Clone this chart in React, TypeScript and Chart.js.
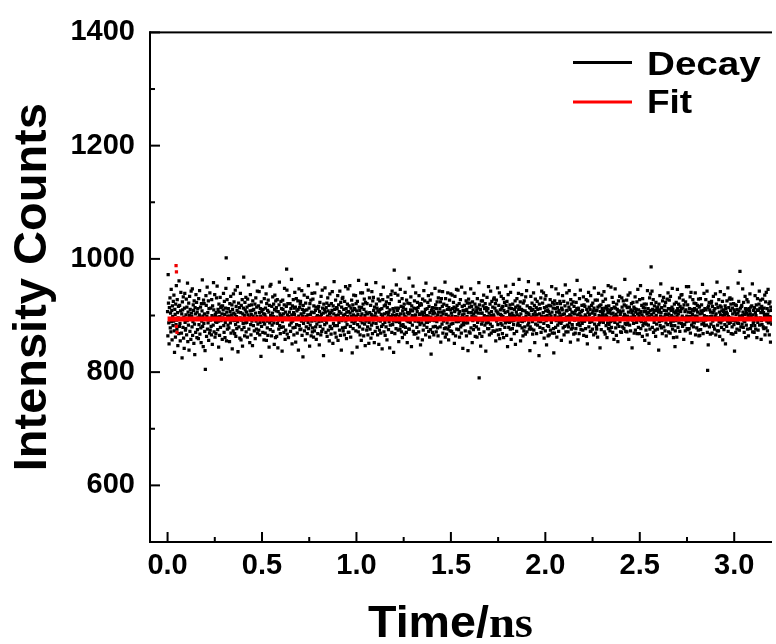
import { useEffect, useRef } from 'react';
import { Chart, registerables } from 'chart.js';

Chart.register(...registerables);

// Time channel spacing (ns) of the decay trace
const timeStep = 0.0016;

// Decay counts in 0.32 ns blocks
const decayY0 = [
  907, 864, 972, 922, 887, 850, 914, 893, 931, 878, 904, 871, 946, 889, 909, 857, 917, 898, 882, 925,
  890, 936, 873, 835, 911, 902, 862, 920, 884, 953, 892, 876, 928, 905, 847, 896, 916, 868, 961, 881,
  918, 886, 855, 908, 941, 894, 869, 903, 825, 924, 910, 879, 933, 860, 897, 842, 913, 939, 888, 874,
  877, 901, 929, 866, 915, 891, 957, 854, 906, 883, 922, 839, 900, 934, 872, 911, 893, 858, 943, 904,
  898, 880, 947, 865, 889, 919, 909, 851, 926, 885, 831, 914, 903, 870, 937, 894, 923, 861, 906, 875,
  912, 896, 859, 930, 884, 901, 944, 867, 897, 915, 878, 852, 921, 890, 908, 963, 881, 899, 845, 927,
  886, 921, 903, 872, 838, 805, 893, 935, 918, 863, 899, 950, 876, 905, 887, 926, 856, 912, 895, 869,
  940, 874, 892, 913, 881, 866, 928, 900, 849, 917, 894, 883, 958, 910, 871, 897, 937, 862, 902, 889,
  868, 905, 931, 888, 952, 897, 875, 911, 890, 844, 920, 906, 865, 898, 932, 879, 914, 891, 823, 916,
  903, 858, 917, 896, 910, 939, 882, 870, 925, 902, 861, 888, 913, 948, 1002, 855, 906, 928, 876, 899,
];
const decayY1 = [
  883, 912, 965, 878, 899, 854, 921, 907, 887, 934, 869, 901, 892, 919, 841, 911, 896, 873, 938, 904,
  924, 891, 868, 902, 945, 884, 863, 916, 898, 877, 909, 951, 889, 836, 906, 922, 880, 894, 914, 860,
  896, 939, 905, 857, 918, 892, 875, 928, 846, 903, 886, 913, 968, 879, 900, 864, 923, 910, 887, 932,
  871, 906, 888, 915, 862, 929, 901, 893, 954, 876, 918, 897, 852, 908, 937, 884, 866, 902, 919, 890,
  909, 847, 926, 899, 882, 911, 960, 873, 895, 920, 859, 904, 931, 890, 876, 915, 898, 943, 869, 885,
  893, 917, 874, 942, 905, 866, 888, 912, 899, 828, 924, 881, 907, 896, 950, 870, 911, 889, 903, 857,
  930, 885, 902, 869, 913, 897, 938, 856, 921, 890, 878, 909, 865, 927, 894, 906, 844, 918, 887, 952,
  875, 900, 955, 891, 864, 916, 883, 904, 933, 872, 898, 920, 887, 849, 911, 936, 895, 861, 926, 908,
  914, 863, 897, 928, 886, 843, 907, 892, 876, 919, 959, 882, 903, 868, 898, 925, 879, 912, 900, 837,
  889, 927, 911, 880, 903, 870, 919, 948, 896, 858, 906, 874, 893, 916, 982, 945, 867, 901, 921, 894,
];
const decayY2 = [
  861, 898, 935, 906, 883, 921, 894, 872, 912, 887, 964, 901, 850, 917, 890, 878, 928, 905, 866, 913,
  902, 941, 879, 915, 853, 896, 930, 884, 908, 869, 893, 926, 911, 839, 899, 947, 882, 914, 875, 920,
  925, 876, 903, 890, 944, 865, 911, 899, 827, 918, 886, 905, 936, 873, 909, 892, 857, 922, 898, 880,
  897, 910, 868, 932, 901, 888, 953, 877, 913, 894, 846, 921, 883, 902, 927, 864, 906, 890, 939, 871,
  878, 929, 896, 862, 917, 905, 873, 940, 891, 909, 880, 915, 858, 897, 885, 956, 900, 868, 912, 893,
  916, 889, 848, 907, 923, 881, 898, 866, 934, 902, 872, 890, 945, 913, 876, 904, 829, 920, 895, 911,
  884, 949, 906, 892, 870, 914, 887, 922, 863, 899, 931, 908, 874, 895, 918, 855, 903, 938, 881, 897,
  905, 867, 921, 877, 909, 942, 895, 851, 917, 886, 903, 960, 882, 911, 869, 893, 927, 900, 862, 914,
  893, 912, 882, 935, 856, 901, 919, 888, 907, 874, 943, 896, 865, 923, 904, 839, 915, 891, 930, 878,
  932, 873, 900, 911, 894, 866, 925, 902, 879, 951, 890, 912, 859, 906, 884, 920, 898, 947, 870, 907,
];
const decayY3 = [
  870, 917, 894, 953, 904, 881, 862, 913, 898, 927, 889, 834, 908, 919, 877, 901, 936, 886, 912, 896,
  911, 890, 935, 873, 921, 899, 908, 844, 925, 884, 902, 871, 962, 893, 915, 880, 909, 866, 891, 940,
  898, 856, 914, 903, 887, 940, 876, 920, 893, 864, 911, 929, 885, 900, 847, 923, 890, 906, 955, 874,
  921, 903, 880, 866, 945, 892, 851, 888, 931, 905, 876, 895, 918, 860, 902, 883, 942, 899, 868, 926,
  887, 932, 909, 894, 852, 915, 899, 872, 904, 958, 886, 920, 897, 913, 879, 866, 908, 929, 892, 849,
  906, 874, 926, 911, 890, 869, 937, 902, 881, 912, 841, 899, 928, 884, 950, 895, 871, 917, 903, 888,
  865, 919, 893, 880, 924, 905, 857, 914, 896, 933, 902, 875, 906, 889, 921, 843, 910, 883, 898, 937,
  928, 897, 870, 943, 901, 884, 912, 890, 835, 907, 980, 894, 868, 939, 900, 913, 877, 954, 889, 902,
  892, 909, 936, 874, 913, 854, 898, 925, 888, 876, 946, 903, 882, 916, 871, 895, 930, 861, 908, 884,
  914, 881, 903, 920, 867, 898, 941, 879, 911, 897, 870, 927, 891, 852, 905, 922, 889, 903, 876, 966,
];
const decayY4 = [
  876, 905, 921, 888, 910, 933, 894, 845, 917, 900, 883, 908, 952, 872, 896, 913, 867, 926, 899, 890,
  901, 940, 868, 912, 895, 879, 907, 923, 860, 914, 889, 871, 935, 902, 918, 884, 903, 848, 921, 893,
  919, 887, 906, 857, 929, 902, 874, 898, 944, 883, 905, 926, 893, 911, 866, 957, 888, 900, 879, 912,
  888, 923, 899, 935, 872, 916, 890, 862, 905, 927, 875, 897, 832, 909, 938, 892, 914, 870, 903, 880,
  907, 866, 913, 891, 904, 948, 881, 919, 897, 871, 912, 889, 924, 878, 901, 864, 931, 906, 893, 943,
  895, 912, 880, 924, 853, 899, 930, 906, 885, 916, 942, 869, 903, 890, 920, 908, 877, 895, 959, 862,
  930, 878, 902, 867, 918, 887, 911, 940, 876, 899, 857, 914, 881, 927, 896, 873, 910, 938, 885, 904,
  872, 899, 936, 912, 886, 868, 923, 893, 915, 851, 907, 934, 898, 864, 912, 889, 946, 876, 918, 897,
  910, 945, 889, 875, 903, 921, 862, 907, 891, 928, 880, 896, 869, 950, 883, 916, 901, 842, 909, 888,
  884, 903, 918, 896, 940, 873, 909, 887, 926, 864, 911, 898, 922, 887, 838, 905, 929, 893, 871, 915,
];
const decayY5 = [
  922, 869, 893, 947, 878, 905, 916, 899, 852, 924, 891, 910, 875, 903, 939, 882, 897, 920, 863, 906,
  897, 915, 880, 909, 862, 930, 888, 913, 904, 876, 958, 790, 919, 868, 892, 911, 846, 904, 926, 885,
  863, 904, 926, 890, 917, 895, 936, 871, 900, 912, 883, 921, 894, 837, 914, 887, 908, 932, 898, 877,
  912, 888, 951, 877, 904, 866, 897, 920, 885, 943, 900, 869, 907, 925, 881, 898, 915, 873, 901, 929,
  899, 931, 872, 913, 893, 921, 855, 908, 927, 890, 874, 906, 949, 884, 903, 866, 918, 894, 940, 859,
  875, 910, 902, 886, 934, 900, 913, 883, 868, 916, 898, 930, 861, 909, 892, 923, 879, 905, 887, 952,
  918, 896, 865, 925, 889, 845, 907, 937, 896, 879, 913, 888, 902, 919, 876, 941, 898, 858, 912, 890,
  904, 877, 920, 900, 955, 884, 891, 868, 911, 899, 926, 849, 915, 893, 906, 872, 930, 901, 883, 917,
  887, 939, 911, 964, 898, 915, 882, 924, 855, 903, 890, 911, 937, 878, 889, 909, 864, 922, 896, 873,
  926, 891, 880, 908, 867, 933, 899, 905, 944, 871, 917, 895, 883, 904, 960, 887, 902, 876, 914, 838,
];
const decayY6 = [
  880, 913, 934, 897, 909, 876, 922, 889, 867, 911, 902, 940, 874, 896, 918, 852, 907, 929, 885, 901,
  914, 868, 901, 925, 883, 911, 893, 956, 890, 829, 920, 903, 879, 912, 889, 931, 870, 899, 943, 895,
  893, 922, 877, 905, 940, 886, 860, 914, 898, 929, 873, 908, 935, 891, 848, 916, 900, 882, 910, 864,
  907, 881, 918, 866, 896, 903, 928, 874, 917, 899, 888, 951, 906, 869, 923, 894, 913, 877, 834, 920,
  869, 926, 900, 912, 879, 947, 891, 906, 862, 921, 914, 883, 897, 938, 872, 909, 888, 904, 925, 898,
  921, 899, 886, 856, 913, 890, 910, 935, 902, 878, 893, 925, 866, 903, 881, 917, 954, 892, 871, 908,
  897, 940, 909, 883, 922, 871, 898, 880, 915, 944, 887, 901, 911, 853, 928, 899, 876, 920, 906, 884,
  878, 905, 924, 895, 867, 916, 903, 892, 937, 869, 908, 877, 923, 894, 912, 962, 884, 901, 857, 913,
  911, 887, 868, 930, 904, 882, 945, 899, 875, 907, 891, 918, 886, 909, 874, 897, 933, 865, 919, 890,
  890, 916, 901, 877, 898, 928, 863, 911, 893, 850, 926, 905, 896, 941, 880, 915, 902, 888, 911, 872,
];
const decayY7 = [
  935, 872, 895, 918, 889, 904, 876, 922, 908, 896, 866, 913, 949, 885, 902, 927, 869, 908, 893, 881,
  876, 909, 927, 862, 915, 895, 939, 884, 900, 917, 888, 843, 907, 890, 919, 875, 898, 936, 912, 904,
  902, 925, 888, 908, 942, 871, 897, 913, 867, 929, 901, 882, 916, 898, 861, 911, 887, 905, 953, 877,
  917, 884, 905, 896, 873, 910, 889, 950, 903, 879, 912, 932, 891, 870, 904, 923, 897, 858, 915, 899,
  888, 947, 913, 878, 902, 865, 920, 898, 911, 885, 854, 907, 926, 893, 881, 908, 934, 889, 902, 871,
  906, 893, 870, 931, 915, 894, 880, 908, 926, 897, 877, 919, 902, 964, 886, 899, 872, 917, 884, 927,
  871, 914, 899, 887, 936, 906, 858, 893, 915, 883, 940, 896, 873, 910, 897, 921, 905, 843, 908, 892,
  923, 901, 886, 915, 869, 898, 912, 933, 874, 906, 893, 911, 888, 924, 868, 903, 946, 895, 879, 910,
  899, 868, 928, 904, 891, 953, 877, 907, 889, 918, 901, 863, 930, 882, 914, 897, 886, 920, 907, 856,
  913, 890, 907, 874, 920, 885, 903, 866, 944, 897, 912, 883, 905, 851, 899, 931, 876, 909, 938, 894,
];
const decayY8 = [
  986, 921, 902, 943, 879, 911, 896, 928, 870, 905, 888, 917, 897, 874, 909, 863, 923, 900, 885, 912,
  909, 876, 915, 893, 906, 839, 920, 889, 910, 935, 882, 899, 956, 905, 878, 914, 891, 868, 926, 897,
  894, 932, 880, 909, 896, 917, 873, 902, 923, 887, 864, 908, 893, 929, 901, 884, 940, 912, 871, 903,
  927, 897, 912, 869, 934, 888, 909, 882, 900, 915, 948, 876, 911, 890, 861, 906, 897, 920, 882, 845,
  873, 904, 891, 923, 908, 862, 898, 946, 912, 879, 903, 920, 887, 908, 931, 872, 916, 895, 907, 936,
  912, 886, 937, 899, 881, 913, 927, 895, 858, 919, 896, 884, 907, 873, 924, 910, 889, 951, 899, 877,
  898, 919, 875, 906, 951, 890, 877, 912, 898, 933, 869, 905, 941, 896, 883, 852, 911, 902, 928, 888,
  880, 908, 922, 887, 912, 899, 940, 866, 921, 891, 910, 878, 899, 918, 906, 890, 874, 929, 864, 915,
  916, 865, 903, 930, 875, 908, 892, 919, 885, 904, 955, 893, 868, 909, 887, 939, 900, 882, 912, 897,
  892, 928, 910, 883, 898, 943, 870, 803, 914, 848, 917, 896, 923, 880, 910, 898, 867, 906, 885, 922,
];
const decayY9 = [
  925, 899, 869, 916, 890, 905, 934, 881, 909, 893, 876, 912, 899, 938, 866, 903, 920, 895, 959, 873,
  883, 914, 896, 873, 928, 889, 906, 863, 917, 942, 901, 887, 915, 879, 908, 892, 925, 857, 900, 910,
  907, 875, 937, 902, 884, 917, 850, 912, 896, 906, 881, 926, 903, 890, 949, 872, 898, 914, 886, 929,
  896, 931, 888, 909, 920, 868, 895, 929, 880, 913, 903, 867, 891, 921, 884, 910, 837, 906, 919, 890,
  870, 902, 918, 893, 876, 911, 887, 904, 957, 886, 925, 908, 874, 899, 978, 895, 913, 880, 897, 916,
  918, 885, 900, 947, 906, 879, 923, 891, 870, 902, 889, 934, 912, 861, 907, 883, 904, 928, 911, 876,
  901, 924, 864, 897, 912, 893, 908, 938, 903, 877, 915, 898, 882, 917, 893, 956, 871, 901, 887, 909,
  889, 870, 914, 882, 935, 905, 876, 900, 919, 896, 861, 910, 930, 888, 874, 909, 894, 920, 943, 883,
  913, 896, 927, 905, 858, 891, 916, 884, 911, 929, 893, 880, 905, 877, 913, 900, 936, 866, 902, 924,
  878, 941, 899, 890, 912, 873, 902, 946, 887, 908, 921, 866, 898, 924, 890, 853, 915, 897, 909, 885,
];
const decaySegments = [decayY0, decayY1, decayY2, decayY3, decayY4, decayY5, decayY6, decayY7, decayY8, decayY9];

// Fit curve
const fitTimes = [0.0, 3.2];
const fitValues = [894, 894];
const fitSpikeTimes = [0.045, 0.047, 0.047, 0.05];
const fitSpikeValues = [988, 977, 881, 870];

// Axes
const xMin = -0.093;
const xMax = 3.2;
const yMin = 500;
const yMax = 1400;
const xTicks = [0, 0.5, 1.0, 1.5, 2.0, 2.5, 3.0];
const xMinorTicks = [0.25, 0.75, 1.25, 1.75, 2.25, 2.75];
const yTicks = [600, 800, 1000, 1200, 1400];
const yMinorTicks = [700, 900, 1100, 1300];

const SANS = "'Liberation Sans', Arial, sans-serif";
const SERIF = "'Liberation Serif', 'Times New Roman', serif";

const decorPlugin = {
  id: 'decor',
  afterDraw(chart: any) {
    const { ctx, chartArea: a, scales } = chart;
    const xs = scales.x;
    const ys = scales.y;
    ctx.save();
    ctx.fillStyle = '#000';
    // frame: left, top, bottom
    ctx.fillRect(a.left - 1, a.top - 1, 2, a.bottom - a.top + 2);
    ctx.fillRect(a.left - 1, a.top - 1, a.right - a.left + 1, 2);
    ctx.fillRect(a.left - 1, a.bottom - 1, a.right - a.left + 1, 2);
    // inward ticks
    xTicks.forEach((v) => {
      const p = xs.getPixelForValue(v);
      ctx.fillRect(p - 1, a.bottom - 10, 2, 10);
    });
    xMinorTicks.forEach((v) => {
      const p = xs.getPixelForValue(v);
      ctx.fillRect(p - 1, a.bottom - 5, 2, 5);
    });
    yTicks.forEach((v) => {
      const p = ys.getPixelForValue(v);
      ctx.fillRect(a.left, p - 1, 10, 2);
    });
    yMinorTicks.forEach((v) => {
      const p = ys.getPixelForValue(v);
      ctx.fillRect(a.left, p - 1, 5, 2);
    });

    // legend
    ctx.fillRect(573, 61, 59, 3);
    ctx.fillStyle = '#f00';
    ctx.fillRect(573, 100.5, 59, 3);
    ctx.fillStyle = '#000';
    ctx.font = `bold 33px ${SANS}`;
    ctx.textAlign = 'left';
    ctx.textBaseline = 'alphabetic';
    ctx.save();
    ctx.translate(647, 74.5);
    ctx.scale(1.17, 1);
    ctx.fillText('Decay', 0, 0);
    ctx.restore();
    ctx.save();
    ctx.translate(647, 112.5);
    ctx.scale(1.12, 1);
    ctx.fillText('Fit', 0, 0);
    ctx.restore();

    // y title
    ctx.save();
    ctx.translate(46, (a.top + a.bottom) / 2);
    ctx.rotate(-Math.PI / 2);
    ctx.font = `bold 47px ${SANS}`;
    ctx.textAlign = 'center';
    ctx.fillText('Intensity Counts', 0, 0);
    ctx.restore();

    // x title: "Time/" sans + "ns" serif
    ctx.save();
    ctx.font = `bold 44px ${SANS}`;
    const w1 = ctx.measureText('Time/').width;
    ctx.font = `bold 44px ${SERIF}`;
    const w2 = ctx.measureText('ns').width;
    const sx = 165 / (w1 + w2);
    ctx.translate(368, 637);
    ctx.scale(sx, 1);
    ctx.textAlign = 'left';
    ctx.font = `bold 44px ${SANS}`;
    ctx.fillText('Time/', 0, 0);
    ctx.font = `bold 44px ${SERIF}`;
    ctx.fillText('ns', w1, 0);
    ctx.restore();

    ctx.restore();
  },
};

export default function App() {
  const ref = useRef<HTMLCanvasElement>(null);
  useEffect(() => {
    if (!ref.current) return;
    const decayValues = decaySegments.flat();
    const decayPoints = decayValues.map((v, i) => ({ x: i * timeStep, y: v }));
    const fitPoints = fitTimes.map((t, i) => ({ x: t, y: fitValues[i] }));
    const spikePoints = fitSpikeTimes.map((t, i) => ({ x: t, y: fitSpikeValues[i] }));
    const tickFont = { family: SANS, size: 29, weight: 'bold' as const };
    const chart = new Chart(ref.current, {
      type: 'scatter',
      data: {
        datasets: [
          {
            label: 'Fit',
            data: fitPoints,
            showLine: true,
            borderColor: '#f00',
            backgroundColor: '#f00',
            borderWidth: 5,
            pointRadius: 0,
            order: 0,
          },
          {
            label: 'Fit start',
            data: spikePoints,
            pointStyle: 'rect',
            pointRadius: 2.3,
            pointBorderWidth: 0,
            backgroundColor: '#e00',
            order: 1,
          },
          {
            label: 'Decay',
            data: decayPoints,
            pointStyle: 'rect',
            pointRadius: 2.3,
            pointBorderWidth: 0,
            backgroundColor: '#000',
            order: 2,
          },
        ],
      },
      options: {
        responsive: false,
        animation: false,
        events: [],
        layout: { padding: { top: 29, left: 0, right: 0, bottom: 0 } },
        plugins: { legend: { display: false }, tooltip: { enabled: false } },
        scales: {
          x: {
            type: 'linear',
            min: xMin,
            max: xMax,
            grid: { display: false, drawTicks: false },
            border: { display: false },
            afterBuildTicks: (s: any) => {
              s.ticks = xTicks.map((v) => ({ value: v }));
            },
            afterFit: (s: any) => {
              s.height = 102;
            },
            ticks: {
              color: '#000',
              font: tickFont,
              padding: 7,
              maxRotation: 0,
              autoSkip: false,
              callback: (v: any) => Number(v).toFixed(1),
            },
          },
          y: {
            type: 'linear',
            min: yMin,
            max: yMax,
            grid: { display: false, drawTicks: false },
            border: { display: false },
            afterBuildTicks: (s: any) => {
              s.ticks = yTicks.map((v) => ({ value: v }));
            },
            afterFit: (s: any) => {
              s.width = 150;
            },
            ticks: {
              color: '#000',
              font: tickFont,
              padding: 15,
              autoSkip: false,
              callback: (v: any) => String(v),
            },
          },
        },
      },
      plugins: [decorPlugin],
    });
    return () => chart.destroy();
  }, []);
  return (
    <div style={{ position: 'absolute', left: 0, top: 0, width: 776, height: 644, background: '#fff' }}>
      <canvas ref={ref} width={776} height={644} style={{ display: 'block' }} />
    </div>
  );
}
